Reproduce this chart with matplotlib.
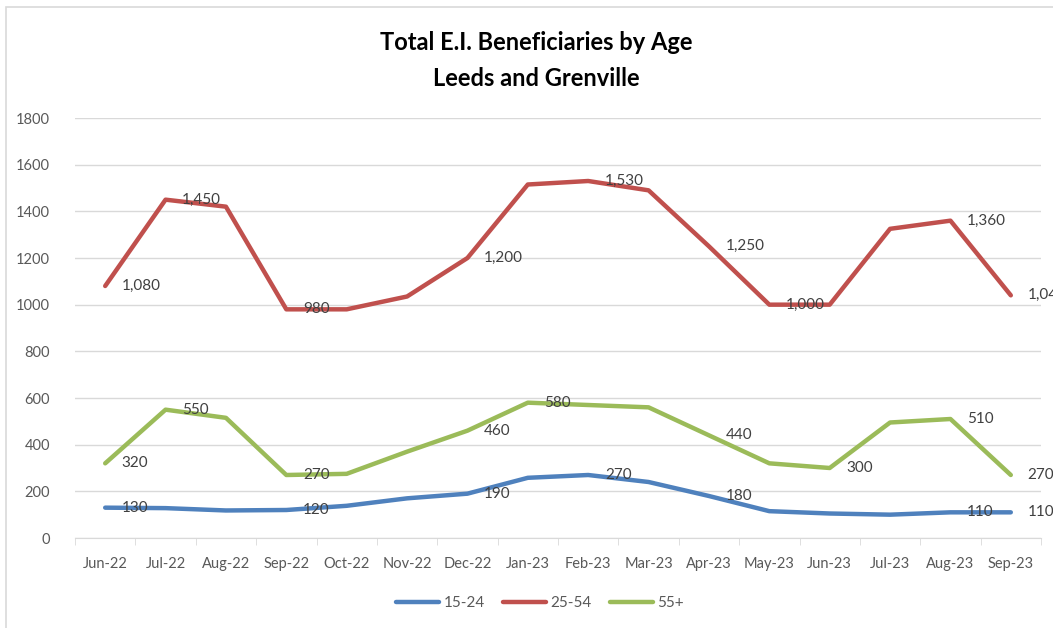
import matplotlib.pyplot as plt
import matplotlib.patches as patches
import numpy as np

plt.rcParams['font.family'] = ['Lato', 'DejaVu Sans']

months = ['Jun-22', 'Jul-22', 'Aug-22', 'Sep-22', 'Oct-22', 'Nov-22', 'Dec-22', 'Jan-23',
          'Feb-23', 'Mar-23', 'Apr-23', 'May-23', 'Jun-23', 'Jul-23', 'Aug-23', 'Sep-23']
age_15_24 = [130, 128, 118, 120, 138, 170, 190, 258, 270, 240, 180, 115, 105, 100, 110, 110]
age_25_54 = [1080, 1450, 1420, 980, 980, 1035, 1200, 1515, 1530, 1490, 1250, 1000, 1000, 1325, 1360, 1040]
age_55_up = [320, 550, 515, 270, 275, 370, 460, 580, 570, 560, 440, 320, 300, 495, 510, 270]

# which points carry a data label
labels_15_24 = [0, 3, 6, 8, 10, 14, 15]
labels_25_54 = [0, 1, 3, 6, 8, 10, 11, 14, 15]
labels_55_up = [0, 1, 3, 6, 7, 10, 12, 14, 15]

series = [
    ('15-24', age_15_24, labels_15_24, '#4F81BD'),
    ('25-54', age_25_54, labels_25_54, '#C0504D'),
    ('55+', age_55_up, labels_55_up, '#9BBB59'),
]

fig = plt.figure(figsize=(10.53, 6.28), dpi=100)
ax = fig.add_axes([75 / 1053, 90 / 628, 966 / 1053, 420 / 628])

x = np.arange(len(months))
for name, vals, lab_idx, color in series:
    ax.plot(x, vals, color=color, lw=3.2, label=name,
            solid_joinstyle='round', solid_capstyle='round')
    for i in lab_idx:
        ax.annotate(f'{vals[i]:,}', (x[i], vals[i]), xytext=(12, 0),
                    textcoords='offset points', ha='left', va='center',
                    fontsize=11, color='#404040', clip_on=False)

ax.set_xlim(-0.5, len(months) - 0.5)
ax.set_ylim(0, 1800)
ax.set_yticks(np.arange(0, 1801, 200))
ax.set_xticks(x)
ax.set_xticklabels(months)
ax.set_xticks(np.arange(-0.5, len(months), 1), minor=True)
ax.tick_params(axis='x', which='major', length=0, pad=14, labelsize=10.5, labelcolor='#595959')
ax.tick_params(axis='x', which='minor', length=5, color='#D9D9D9')
ax.tick_params(axis='y', length=0, pad=18, labelsize=10.5, labelcolor='#595959')
ax.grid(axis='y', color='#D9D9D9', lw=1)
ax.set_axisbelow(True)
for s in ['top', 'right', 'left']:
    ax.spines[s].set_visible(False)
ax.spines['bottom'].set_color('#D9D9D9')

fig.text(536 / 1053, 1 - 43 / 628, 'Total E.I. Beneficiaries by Age', ha='center', va='center',
         fontsize=17, fontweight='bold', color='black')
fig.text(536 / 1053, 1 - 78 / 628, 'Leeds and Grenville', ha='center', va='center',
         fontsize=17, fontweight='bold', color='black')

fig.legend(loc='center', bbox_to_anchor=(540 / 1053, 1 - 603 / 628), ncol=3, frameon=False,
           fontsize=11, handlelength=2.8, columnspacing=1.2, handletextpad=0.3,
           labelcolor='#595959')

# chart area border
fig.patches.append(patches.Rectangle((6 / 1053, -0.1), 1.2, 1 - 7 / 628 + 0.1,
                                     transform=fig.transFigure, fill=False,
                                     edgecolor='#D9D9D9', lw=1.2))

fig.savefig('out.png', dpi=100)
